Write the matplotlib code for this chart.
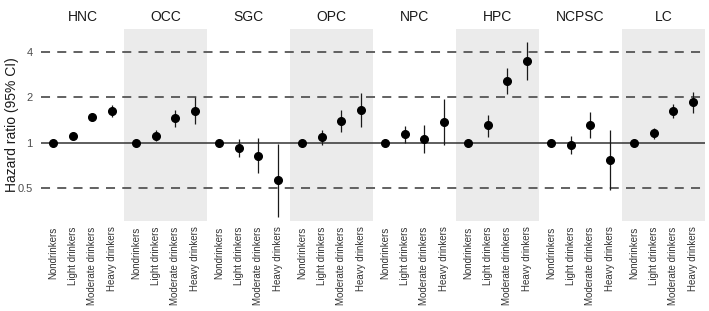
import numpy as np
import matplotlib
matplotlib.use("Agg")
from matplotlib import pyplot as plt

plt.rcParams['font.family'] = ['Liberation Sans', 'DejaVu Sans']

sites = ['HNC', 'OCC', 'SGC', 'OPC', 'NPC', 'HPC', 'NCPSC', 'LC']
groups = ['Nondrinkers', 'Light drinkers', 'Moderate drinkers', 'Heavy drinkers']

# hazard ratio, lower and upper 95% CI, per site (rows) and drinking group (columns)
hr = [
    [1.0, 1.10, 1.47, 1.63],
    [1.0, 1.11, 1.45, 1.63],
    [1.0, 0.92, 0.82, 0.56],
    [1.0, 1.09, 1.40, 1.65],
    [1.0, 1.14, 1.06, 1.37],
    [1.0, 1.30, 2.58, 3.50],
    [1.0, 0.97, 1.32, 0.76],
    [1.0, 1.15, 1.62, 1.87],
]
ci_low = [
    [1.0, 1.07, 1.39, 1.47],
    [1.0, 1.03, 1.28, 1.33],
    [1.0, 0.80, 0.63, 0.32],
    [1.0, 0.97, 1.18, 1.27],
    [1.0, 0.99, 0.85, 0.96],
    [1.0, 1.09, 2.10, 2.62],
    [1.0, 0.84, 1.08, 0.48],
    [1.0, 1.06, 1.46, 1.57],
]
ci_high = [
    [1.0, 1.13, 1.54, 1.78],
    [1.0, 1.21, 1.64, 2.00],
    [1.0, 1.05, 1.07, 0.98],
    [1.0, 1.21, 1.65, 2.14],
    [1.0, 1.29, 1.31, 1.94],
    [1.0, 1.53, 3.13, 4.66],
    [1.0, 1.11, 1.61, 1.21],
    [1.0, 1.25, 1.80, 2.17],
]

hr = np.array(hr)
ci_low = np.array(ci_low)
ci_high = np.array(ci_high)

pad = 0.6
width = len(groups) - 1 + 2 * pad

fig = plt.figure(figsize=(7.09, 3.11), dpi=100)
ax = fig.add_axes([41 / 709, 1 - 221 / 311, 664 / 709, 192 / 311])
ax.set_yscale('log', base=2)

for i, site in enumerate(sites):
    x0 = i * width
    if i % 2 == 1:
        ax.axvspan(x0, x0 + width, color='#ebebeb', lw=0, zorder=0)
    xs = x0 + pad + np.arange(len(groups))
    ax.vlines(xs, ci_low[i], ci_high[i], color='#1a1a1a', lw=0.9, zorder=3)
    ax.plot(xs, hr[i], 'o', color='black', ms=5.5, zorder=4)
    ax.text(x0 + width / 2, 1.025, site, transform=ax.get_xaxis_transform(),
            ha='center', va='bottom', fontsize=10, color='#1a1a1a')

for v in [0.5, 2, 4]:
    ax.axhline(v, color='#555555', lw=1.3, ls=(0, (5, 4)), zorder=1)
ax.axhline(1, color='#333333', lw=1.1, zorder=2)

xt = [i * width + pad + j for i in range(len(sites)) for j in range(len(groups))]
ax.set_xticks(xt)
ax.set_xticklabels(groups * len(sites), rotation=90, fontsize=7, color='#333333')
ax.set_xlim(0, len(sites) * width)
ax.set_ylim(0.30, 5.72)
ax.set_yticks([0.5, 1, 2, 4])
ax.set_yticklabels(['0.5', '1', '2', '4'], fontsize=8, color='#4d4d4d')
ax.minorticks_off()
ax.tick_params(axis='x', length=0, pad=4)
ax.tick_params(axis='y', length=0, pad=6)
for s in ax.spines.values():
    s.set_visible(False)

fig.text(12 / 709, 1 - 125 / 311, 'Hazard ratio (95% CI)', rotation=90,
         ha='center', va='center', fontsize=10, color='#1a1a1a')

fig.savefig('out.png', dpi=100)
